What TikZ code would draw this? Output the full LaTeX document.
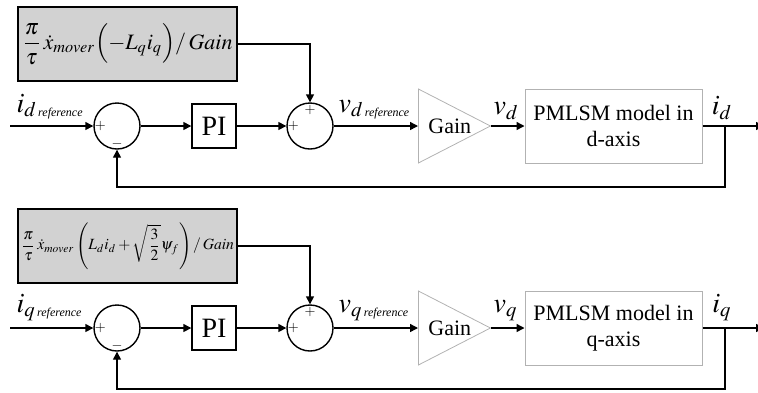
\documentclass[tikz,border=0pt]{standalone}
\usepackage{amsmath}
\usepackage{mathptmx}
\usepackage{fontspec}
\setmainfont{Liberation Serif}
\usetikzlibrary{arrows.meta,shapes.geometric}

\newcommand{\refsub}{\mbox{\fontsize{6}{7}\selectfont\itshape reference}}

\begin{document}
\begin{tikzpicture}[x=0.5pt, y=-0.5pt, line width=0.7pt, >={Triangle[length=4pt, width=4pt]},
	sumc/.style={draw, circle, minimum size=23pt, inner sep=0pt},
	blk/.style={draw, minimum width=22pt, minimum height=22pt, inner sep=0pt, font=\fontsize{14}{16}\selectfont},
	ffbox/.style={draw, fill=gray!35, minimum width=109.5pt, minimum height=37pt, inner sep=0pt},
	amp/.style={draw=gray!60, line width=0.4pt, isosceles triangle, isosceles triangle stretches, minimum width=37pt, minimum height=36pt, inner sep=0pt},
	plant/.style={draw=gray!60, line width=0.5pt, minimum width=88.5pt, minimum height=37pt, align=center, font=\fontsize{11}{13}\selectfont},
	sgn/.style={inner sep=0pt, font=\fontsize{7}{8}\selectfont},
	lbl/.style={inner sep=0pt, font=\fontsize{14}{16}\selectfont}]
	\useasboundingbox (0,0) rectangle (758,392);
	% d-axis current loop
	\begin{scope}
		\node[ffbox] (ff) at (127.5,44) {\fontsize{11}{13}\selectfont $\dfrac{\pi}{\tau}\,\dot{x}_{mover}\Bigl(-L_q i_q\Bigr)/\,Gain$};
		\coordinate (in) at (10,126);
		\node[sumc] (s1) at (117,126) {};
		\node[blk] (pi) at (214,126) {PI};
		\node[sumc] (s2) at (310,126) {};
		\node[amp, anchor=west] (g) at (418,126) {};
		\node[anchor=west, font=\fontsize{11}{13}\selectfont] (gt) at ([xshift=1.5pt]g.west) {Gain};
		\node[plant] (pm) at (613.5,126) {PMLSM model in\\d-axis};
		\coordinate (br) at (725,126);
		\coordinate (out) at (764,126);
		\coordinate (fb) at (725,187);
		\node[sgn] (s1p) at ([xshift=3.5pt]s1.west) {$+$};
		\node[sgn] (s1m) at ([yshift=3pt]s1.south) {$-$};
		\node[sgn] (s2t) at ([yshift=-4pt]s2.north) {$+$};
		\node[sgn] (s2l) at ([xshift=3.5pt]s2.west) {$+$};
		\node[lbl, anchor=south west] (ird) at (16,120) {$i_{d\,\refsub}$};
		\node[lbl, anchor=south west] (vdr) at (338,120) {$v_{d\,\refsub}$};
		\node[lbl, anchor=south west] (vd) at (493,120) {$v_d$};
		\node[lbl, anchor=south] (id) at (722,120) {$i_d$};
		\draw[->] (in) -- (s1.west);
		\draw[->] (s1) -- (pi);
		\draw[->] (pi) -- (s2);
		\draw[->] (ff.east) -| (s2.north);
		\draw[->] (s2) -- (g.west);
		\draw[->] (g.apex) -- (pm);
		\draw[->] (pm) -- (out);
		\draw[->] (br) -- (fb) -| (s1.south);
	\end{scope}
	% q-axis current loop
	\begin{scope}[shift={(0,202)}]
		\node[ffbox] (ff) at (127.5,44) {\fontsize{7.8}{10}\selectfont $\dfrac{\pi}{\tau}\,\dot{x}_{mover}\left(L_d i_d+\sqrt{\dfrac{3}{2}}\psi_f\right)/\,Gain$};
		\coordinate (in) at (10,126);
		\node[sumc] (s1) at (117,126) {};
		\node[blk] (pi) at (214,126) {PI};
		\node[sumc] (s2) at (310,126) {};
		\node[amp, anchor=west] (g) at (418,126) {};
		\node[anchor=west, font=\fontsize{11}{13}\selectfont] (gt) at ([xshift=1.5pt]g.west) {Gain};
		\node[plant] (pm) at (613.5,126) {PMLSM model in\\q-axis};
		\coordinate (br) at (725,126);
		\coordinate (out) at (764,126);
		\coordinate (fb) at (725,187);
		\node[sgn] (s1p) at ([xshift=3.5pt]s1.west) {$+$};
		\node[sgn] (s1m) at ([yshift=3pt]s1.south) {$-$};
		\node[sgn] (s2t) at ([yshift=-4pt]s2.north) {$+$};
		\node[sgn] (s2l) at ([xshift=3.5pt]s2.west) {$+$};
		\node[lbl, anchor=south west] (iqr) at (16,120) {$i_{q\,\refsub}$};
		\node[lbl, anchor=south west] (vqr) at (338,120) {$v_{q\,\refsub}$};
		\node[lbl, anchor=south west] (vq) at (493,120) {$v_q$};
		\node[lbl, anchor=south] (iq) at (722,120) {$i_q$};
		\draw[->] (in) -- (s1.west);
		\draw[->] (s1) -- (pi);
		\draw[->] (pi) -- (s2);
		\draw[->] (ff.east) -| (s2.north);
		\draw[->] (s2) -- (g.west);
		\draw[->] (g.apex) -- (pm);
		\draw[->] (pm) -- (out);
		\draw[->] (br) -- (fb) -| (s1.south);
	\end{scope}
\end{tikzpicture}
\end{document}
